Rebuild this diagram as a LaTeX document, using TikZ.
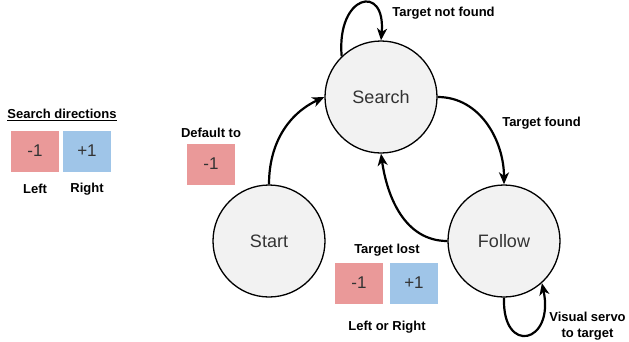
\documentclass[tikz,border=0pt]{standalone}
\usepackage{fontspec}
\setmainfont{Liberation Sans}
\usepackage{xcolor}
\usetikzlibrary{arrows.meta}

\definecolor{leftred}{HTML}{EA9999}
\definecolor{rightblue}{HTML}{9FC5E8}
\definecolor{stategray}{HTML}{F2F2F2}
\definecolor{textgray}{HTML}{333333}

\tikzset{
  state/.style={circle, draw=black, line width=1.3pt, fill=stategray,
    minimum size=112pt, inner sep=0pt, text=textgray,
    font=\fontsize{18}{20}\selectfont},
  dirbox/.style={rectangle, minimum width=48pt, minimum height=41pt,
    inner sep=0pt, text=textgray, font=\fontsize{17}{19}\selectfont},
  lbl/.style={inner sep=0pt, font=\fontsize{13}{16}\selectfont\bfseries},
  trans/.style={line width=2.2pt, -{Stealth[length=12pt,width=10pt,inset=3.5pt]}}
}

\begin{document}
\begin{tikzpicture}[x=1pt,y=-1pt]
  \useasboundingbox (0,0) rectangle (629,341);
  % states
  \node[state] (search) at (381,97) {Search};
  \node[state] (start) at (269,241) {Start};
  \node[state] (follow) at (504,241) {Follow};
  % legend on the left
  \node[lbl] (legend) at (62,115) {\underline{Search directions}};
  \node[dirbox, fill=leftred] (legleft) at (35,151) {-1};
  \node[dirbox, fill=rightblue] (legright) at (87,151) {+1};
  \node[lbl] (legleftlbl) at (35,189) {Left};
  \node[lbl] (legrightlbl) at (87,189) {Right};
  % initial direction
  \node[lbl] (default) at (211,133) {Default to};
  \node[dirbox, fill=leftred] (defleft) at (211,164) {-1};
  % direction kept when the target is lost
  \node[lbl] (lost) at (387,250) {Target lost};
  \node[dirbox, fill=leftred] (lostleft) at (359,283) {-1};
  \node[dirbox, fill=rightblue] (lostright) at (414,283) {+1};
  \node[lbl] (lostlbl) at (387,327) {Left or Right};
  % transition labels
  \node[lbl] (notfound) at (443.5,13) {Target not found};
  \node[lbl] (found) at (541.5,123) {Target found};
  \node[lbl, align=center] (servo) at (587.5,326) {Visual servo\\to target};
  % transitions (y axis points down, so the loop handles use negated angles)
  \draw[trans] (start.north) to[out=90,in=205] (search.west);
  \draw[trans] (search.134) .. controls +(-95:62) and +(-85:58) .. (search.north);
  \draw[trans] (search.east) to[out=0,in=90] (follow.north);
  \draw[trans] (follow.west) to[out=180,in=-82] (search.south);
  \draw[trans] (follow.south) .. controls +(92:58) and +(78:62) .. (follow.-48);
\end{tikzpicture}
\end{document}
